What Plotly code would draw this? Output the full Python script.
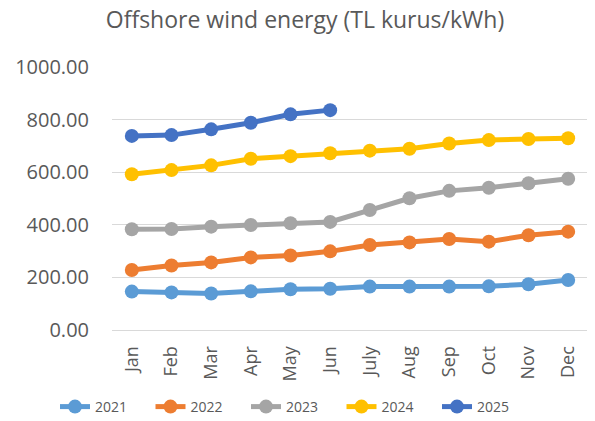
import plotly.graph_objects as go

months = ["Jan", "Feb", "Mar", "Apr", "May", "Jun", "July", "Aug", "Sep", "Oct", "Nov", "Dec"]
y2021 = [146, 143, 139, 147, 155, 157, 165, 165, 165, 166, 174, 190]
y2022 = [228, 245, 257, 276, 283, 299, 323, 333, 346, 336, 360, 374]
y2023 = [383, 384, 393, 399, 406, 411, 456, 501, 529, 541, 558, 575]
y2024 = [592, 608, 626, 651, 661, 672, 682, 689, 709, 722, 726, 729]
y2025 = [738, 741, 763, 788, 820, 836]
yticks = [0, 200, 400, 600, 800, 1000]
yticklabels = ["0.00", "200.00", "400.00", "600.00", "800.00", "1000.00"]

series = [
    ("2021", y2021, "#5B9BD5"),
    ("2022", y2022, "#ED7D31"),
    ("2023", y2023, "#A5A5A5"),
    ("2024", y2024, "#FFC000"),
    ("2025", y2025, "#4472C4"),
]

fig = go.Figure()
for name, vals, color in series:
    fig.add_trace(go.Scatter(
        x=months[:len(vals)], y=vals, name=name, mode="lines+markers",
        line=dict(color=color, width=5),
        marker=dict(color=color, size=14),
    ))

# page has an 8px body offset; positions below compensate for it
W, H, OFF = 595, 421, 8
L, R, T, B = 112 - OFF, 588 - OFF, 67 - OFF, 330 - OFF   # plot box in figure px
PW, PH = R - L, B - T
font = "Open Sans, DejaVu Sans, sans-serif"
fig.update_layout(
    width=W, height=H,
    margin=dict(l=L, r=W - R, t=T, b=H - B, autoexpand=False),
    paper_bgcolor="white", plot_bgcolor="white",
    font=dict(family=font, color="#595959"),
    title=dict(text="Offshore wind energy (TL kurus/kWh)", xref="container",
               x=(305 - OFF) / W, xanchor="center", yref="container",
               y=1 - (20 - OFF) / H, yanchor="middle",
               font=dict(size=23, color="#595959")),
    xaxis=dict(type="category", categoryorder="array", categoryarray=months,
               range=[-0.5, 11.5],
               tickangle=-90, tickfont=dict(size=18, color="#595959"),
               showgrid=False, showline=False, zeroline=False, automargin=False,
               ticks="outside", ticklen=8, tickcolor="rgba(0,0,0,0)"),
    yaxis=dict(range=[0, 1000], tickvals=yticks, ticktext=yticklabels,
               tickfont=dict(size=20, color="#595959"),
               showgrid=True, gridcolor="#D9D9D9", gridwidth=1,
               zeroline=True, zerolinecolor="#D9D9D9", zerolinewidth=1,
               showline=False, automargin=False,
               ticks="outside", ticklen=18, tickcolor="rgba(0,0,0,0)"),
    legend=dict(orientation="h", xref="paper", x=(55 - OFF - L) / PW, xanchor="left",
                yref="paper", y=(B - (407 - OFF)) / PH, yanchor="middle",
                font=dict(size=14, color="#595959"),
                entrywidth=50.5, entrywidthmode="pixels",
                traceorder="normal"),
    showlegend=True,
)

fig.write_html("out.html")
